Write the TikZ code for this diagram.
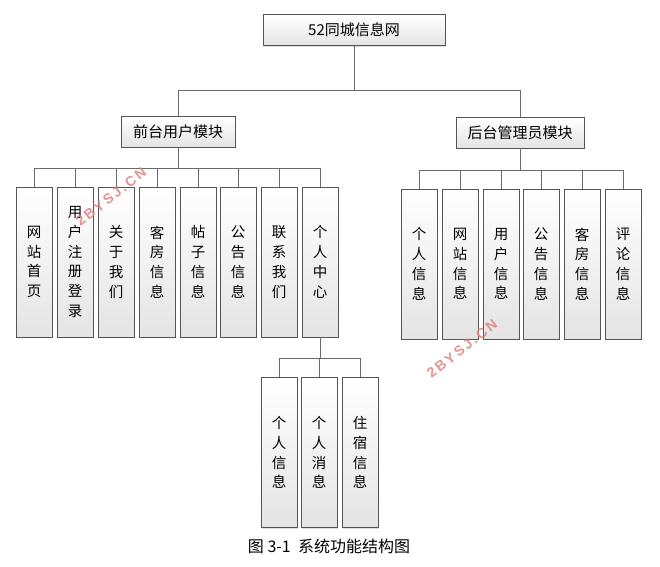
\documentclass[tikz,border=0pt]{standalone}
\usepackage{fontspec}
\setmainfont{Noto Sans CJK SC}
\newfontfamily\wmfont{Liberation Sans}
\usetikzlibrary{shadows}
\definecolor{boxline}{HTML}{555555}
\definecolor{connline}{HTML}{6A6A6A}
\definecolor{boxbot}{HTML}{E4E4E4}
\definecolor{wmred}{HTML}{E08080}
\begin{document}
\begin{tikzpicture}[x=1pt,y=-1pt,
  basebox/.style={draw=boxline, line width=0.9pt, top color=white, bottom color=boxbot,
    drop shadow={shadow xshift=1.2pt, shadow yshift=-1.2pt, fill=gray!45, opacity=0.6},
    inner sep=0pt, text=black},
  hbox/.style={basebox, minimum height=31pt, font=\fontsize{15}{18}\selectfont},
  vbox/.style={basebox, minimum width=36pt, minimum height=150pt, align=center,
    font=\fontsize{14.5}{19.8}\selectfont},
  conn/.style={draw=connline, line width=0.9pt},
  wm/.style={text=wmred, font=\wmfont\bfseries\fontsize{14}{14}\selectfont, rotate=38, opacity=0.85}
]
\useasboundingbox (0,0) rectangle (660,566);

% top level
\node[hbox, minimum width=182pt] (top) at (354,30) {52同城信息网};
\node[hbox, minimum width=114pt] (front) at (178,131.5) {前台用户模块};
\node[hbox, minimum width=128pt] (back) at (520,132.5) {后台管理员模块};

% front children
\node[vbox] (f1) at (34,262) {网\\站\\首\\页};
\node[vbox] (f2) at (75,262) {用\\户\\注\\册\\登\\录};
\node[vbox] (f3) at (116,262) {关\\于\\我\\们};
\node[vbox] (f4) at (157,262) {客\\房\\信\\息};
\node[vbox] (f5) at (198,262) {帖\\子\\信\\息};
\node[vbox] (f6) at (238,262) {公\\告\\信\\息};
\node[vbox] (f7) at (279,262) {联\\系\\我\\们};
\node[vbox] (f8) at (320,262) {个\\人\\中\\心};

% back children
\node[vbox] (b1) at (419,264) {个\\人\\信\\息};
\node[vbox] (b2) at (460,264) {网\\站\\信\\息};
\node[vbox] (b3) at (501,264) {用\\户\\信\\息};
\node[vbox] (b4) at (541,264) {公\\告\\信\\息};
\node[vbox] (b5) at (582,264) {客\\房\\信\\息};
\node[vbox] (b6) at (623,264) {评\\论\\信\\息};

% personal center children
\node[vbox] (p1) at (279,452.5) {个\\人\\信\\息};
\node[vbox] (p2) at (319,452.5) {个\\人\\消\\息};
\node[vbox] (p3) at (360,452.5) {住\\宿\\信\\息};

% bus levels
\coordinate (L0) at (0,90);
\coordinate (L1) at (0,168);
\coordinate (L2) at (0,170);
\coordinate (L3) at (0,358);

% connectors
\draw[conn] (top.south) -- (top.south |- L0);
\draw[conn] (front.north) |- (back.north |- L0) -- (back.north);

\draw[conn] (front.south) -- (front.south |- L1);
\draw[conn] (f1.north) |- (f8.north |- L1) -- (f8.north);
\foreach \n in {f2,f3,f4,f5,f6,f7}{\draw[conn] (\n.north) -- (\n.north |- L1);}

\draw[conn] (back.south) -- (back.south |- L2);
\draw[conn] (b1.north) |- (b6.north |- L2) -- (b6.north);
\foreach \n in {b2,b3,b4,b5}{\draw[conn] (\n.north) -- (\n.north |- L2);}

\draw[conn] (f8.south) -- (f8.south |- L3);
\draw[conn] (p1.north) |- (p3.north |- L3) -- (p3.north);
\draw[conn] (p2.north) -- (p2.north |- L3);

% caption
\node[font=\fontsize{16}{18}\selectfont] (cap) at (329,546) {图\ 3-1\ \ 系统功能结构图};

% watermarks
\node[wm] (wm1) at (111,197) {2\,B\,Y\,S\,J\,.\,C\,N};
\node[wm] (wm2) at (462,349) {2\,B\,Y\,S\,J\,.\,C\,N};
\end{tikzpicture}
\end{document}
